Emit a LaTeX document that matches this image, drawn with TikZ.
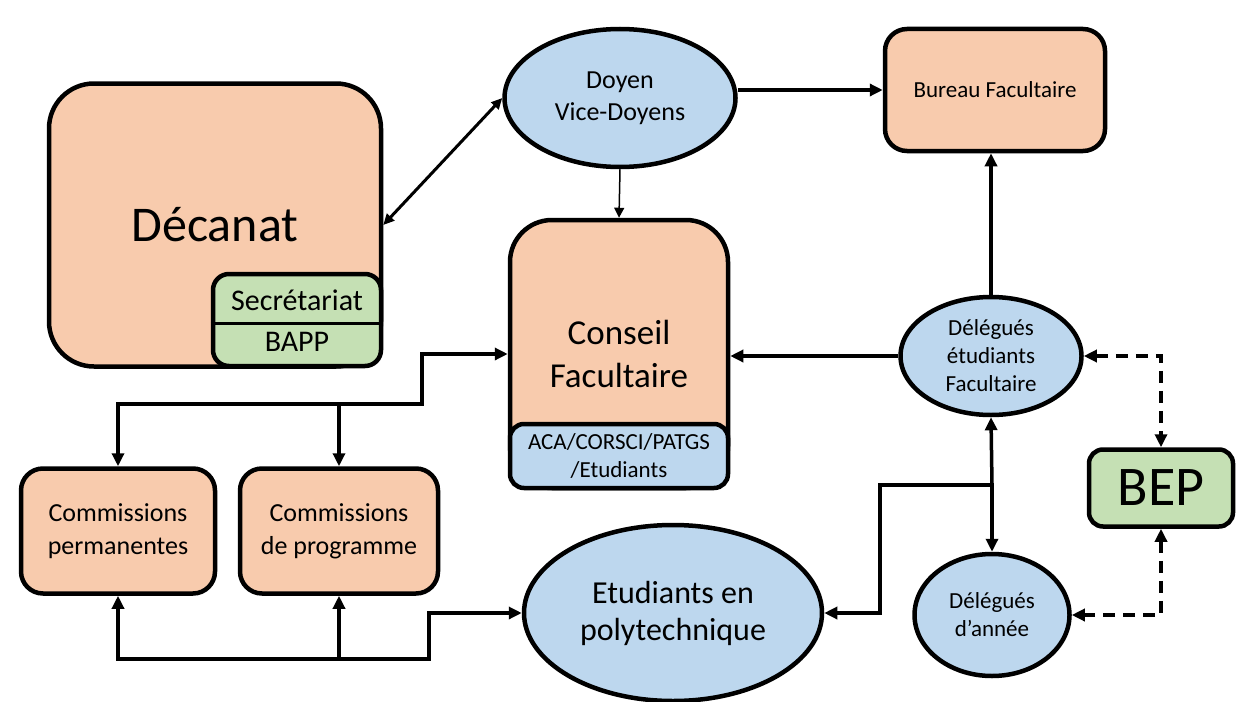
\documentclass[tikz,border=0pt]{standalone}
\usepackage{fontspec}
\setmainfont{Carlito}
\usetikzlibrary{arrows.meta,shapes.geometric}
\definecolor{peach}{HTML}{F8CBAD}
\definecolor{sky}{HTML}{BDD7EE}
\definecolor{leaf}{HTML}{C5E0B4}
\tikzset{
  box/.style={draw=black, line width=4.5pt, align=center, inner sep=0pt},
  peachbox/.style={box, fill=peach},
  leafbox/.style={box, fill=leaf},
  skybox/.style={box, fill=sky},
  bubble/.style={box, ellipse, fill=sky},
  link/.style={line width=3.5pt},
  dashlink/.style={line width=3.5pt, dash pattern=on 12pt off 8pt},
}

\begin{document}
\begin{tikzpicture}[x=1pt, y=-1pt, >={Triangle[length=13pt,width=12pt]}]
			%%%%% START %%%%%
			\useasboundingbox[fill=white] (0,0) rectangle (1236,701);
			
			\node[peachbox, rounded corners=45pt, minimum width=332, minimum height=283, font=\fontsize{50}{60}\selectfont] (Decanat) at (215,225) {Décanat};
			\node[leafbox, rounded corners=16pt, minimum width=168, minimum height=92] (Secr) at (297,320) {};
			\coordinate (secdiv) at (0,323);
			\draw[line width=3pt] (Secr.west |- secdiv) -- (Secr.east |- secdiv);
			\node[font=\fontsize{30}{36}\selectfont] (SecrTxt) at (297,300) {Secrétariat};
			\node[font=\fontsize{30}{36}\selectfont] (BAPP) at (297,342) {BAPP};
			
			\node[bubble, minimum width=231, minimum height=138, font=\fontsize{26}{32}\selectfont] (Doyen) at (620,98) {Doyen\\Vice-Doyens};
			\node[peachbox, rounded corners=22pt, minimum width=220, minimum height=122, font=\fontsize{23}{28}\selectfont] (Bureau) at (995,90) {Bureau Facultaire};
			
			\node[peachbox, rounded corners=42pt, minimum width=218, minimum height=268, font=\fontsize{35}{43}\selectfont] (Conseil) at (619,354) {Conseil\\Facultaire};
			\node[skybox, rounded corners=14pt, minimum width=218, minimum height=64, font=\fontsize{23}{28}\selectfont] (ACA) at (619,456) {ACA/CORSCI/PATGS\\/Etudiants};
			
			\node[bubble, minimum width=181, minimum height=118, font=\fontsize{23}{28}\selectfont] (DelFac) at (991,356) {Délégués\\étudiants\\Facultaire};
			\node[leafbox, rounded corners=14pt, minimum width=144, minimum height=77, font=\fontsize{56}{66}\selectfont] (BEP) at (1161,488) {BEP};
			\node[bubble, minimum width=155, minimum height=122, font=\fontsize{23}{28}\selectfont] (DelAn) at (992,615) {Délégués\\d’année};
			\node[bubble, minimum width=298, minimum height=176, font=\fontsize{32}{37}\selectfont] (Etud) at (673,613) {Etudiants en\\polytechnique};
			
			\node[peachbox, rounded corners=22pt, minimum width=194, minimum height=125, font=\fontsize{26}{33}\selectfont] (CPerm) at (118,531) {Commissions\\permanentes};
			\node[peachbox, rounded corners=22pt, minimum width=198, minimum height=125, font=\fontsize{26}{33}\selectfont] (CProg) at (339,531) {Commissions\\de programme};
			
			% connectors
			\coordinate (jT) at (422,404);
			\coordinate (jB) at (429,659);
			\coordinate (jE) at (880,485);
			
			\draw[<->, line width=3pt, >={Triangle[length=11pt,width=10pt]}] (Decanat.east) -- (Doyen.west);
			\draw[->, line width=1.5pt, >={Triangle[length=10pt,width=10pt]}] (Doyen.south) -- (Conseil.north);
			\draw[link, ->] (Doyen.east |- Bureau.west) -- (Bureau.west);
			\draw[link, ->] (DelFac.north) -- (DelFac.north |- Bureau.south);
			\draw[link, ->] (DelFac.west) -- (DelFac.west -| Conseil.east);
			
			\draw[link, <->] (CPerm.north) |- (jT) |- (Conseil.west);
			\draw[link, ->] (CProg.north |- jT) -- (CProg.north);
			\draw[link, <->] (CPerm.south) |- (jB) |- (Etud.west);
			\draw[link, ->] (CProg.south |- jB) -- (CProg.south);
			
			\draw[link, <->] (Etud.east) -| (jE) -| (DelAn.north);
			\draw[link, ->] (DelAn.north |- jE) -- (DelFac.south);
			
			\draw[dashlink, <->] (DelFac.east) -| (BEP.north);
			\draw[dashlink, <->] (BEP.south) |- (DelAn.east);
			%%%%% END %%%%%
\end{tikzpicture}
\end{document}
